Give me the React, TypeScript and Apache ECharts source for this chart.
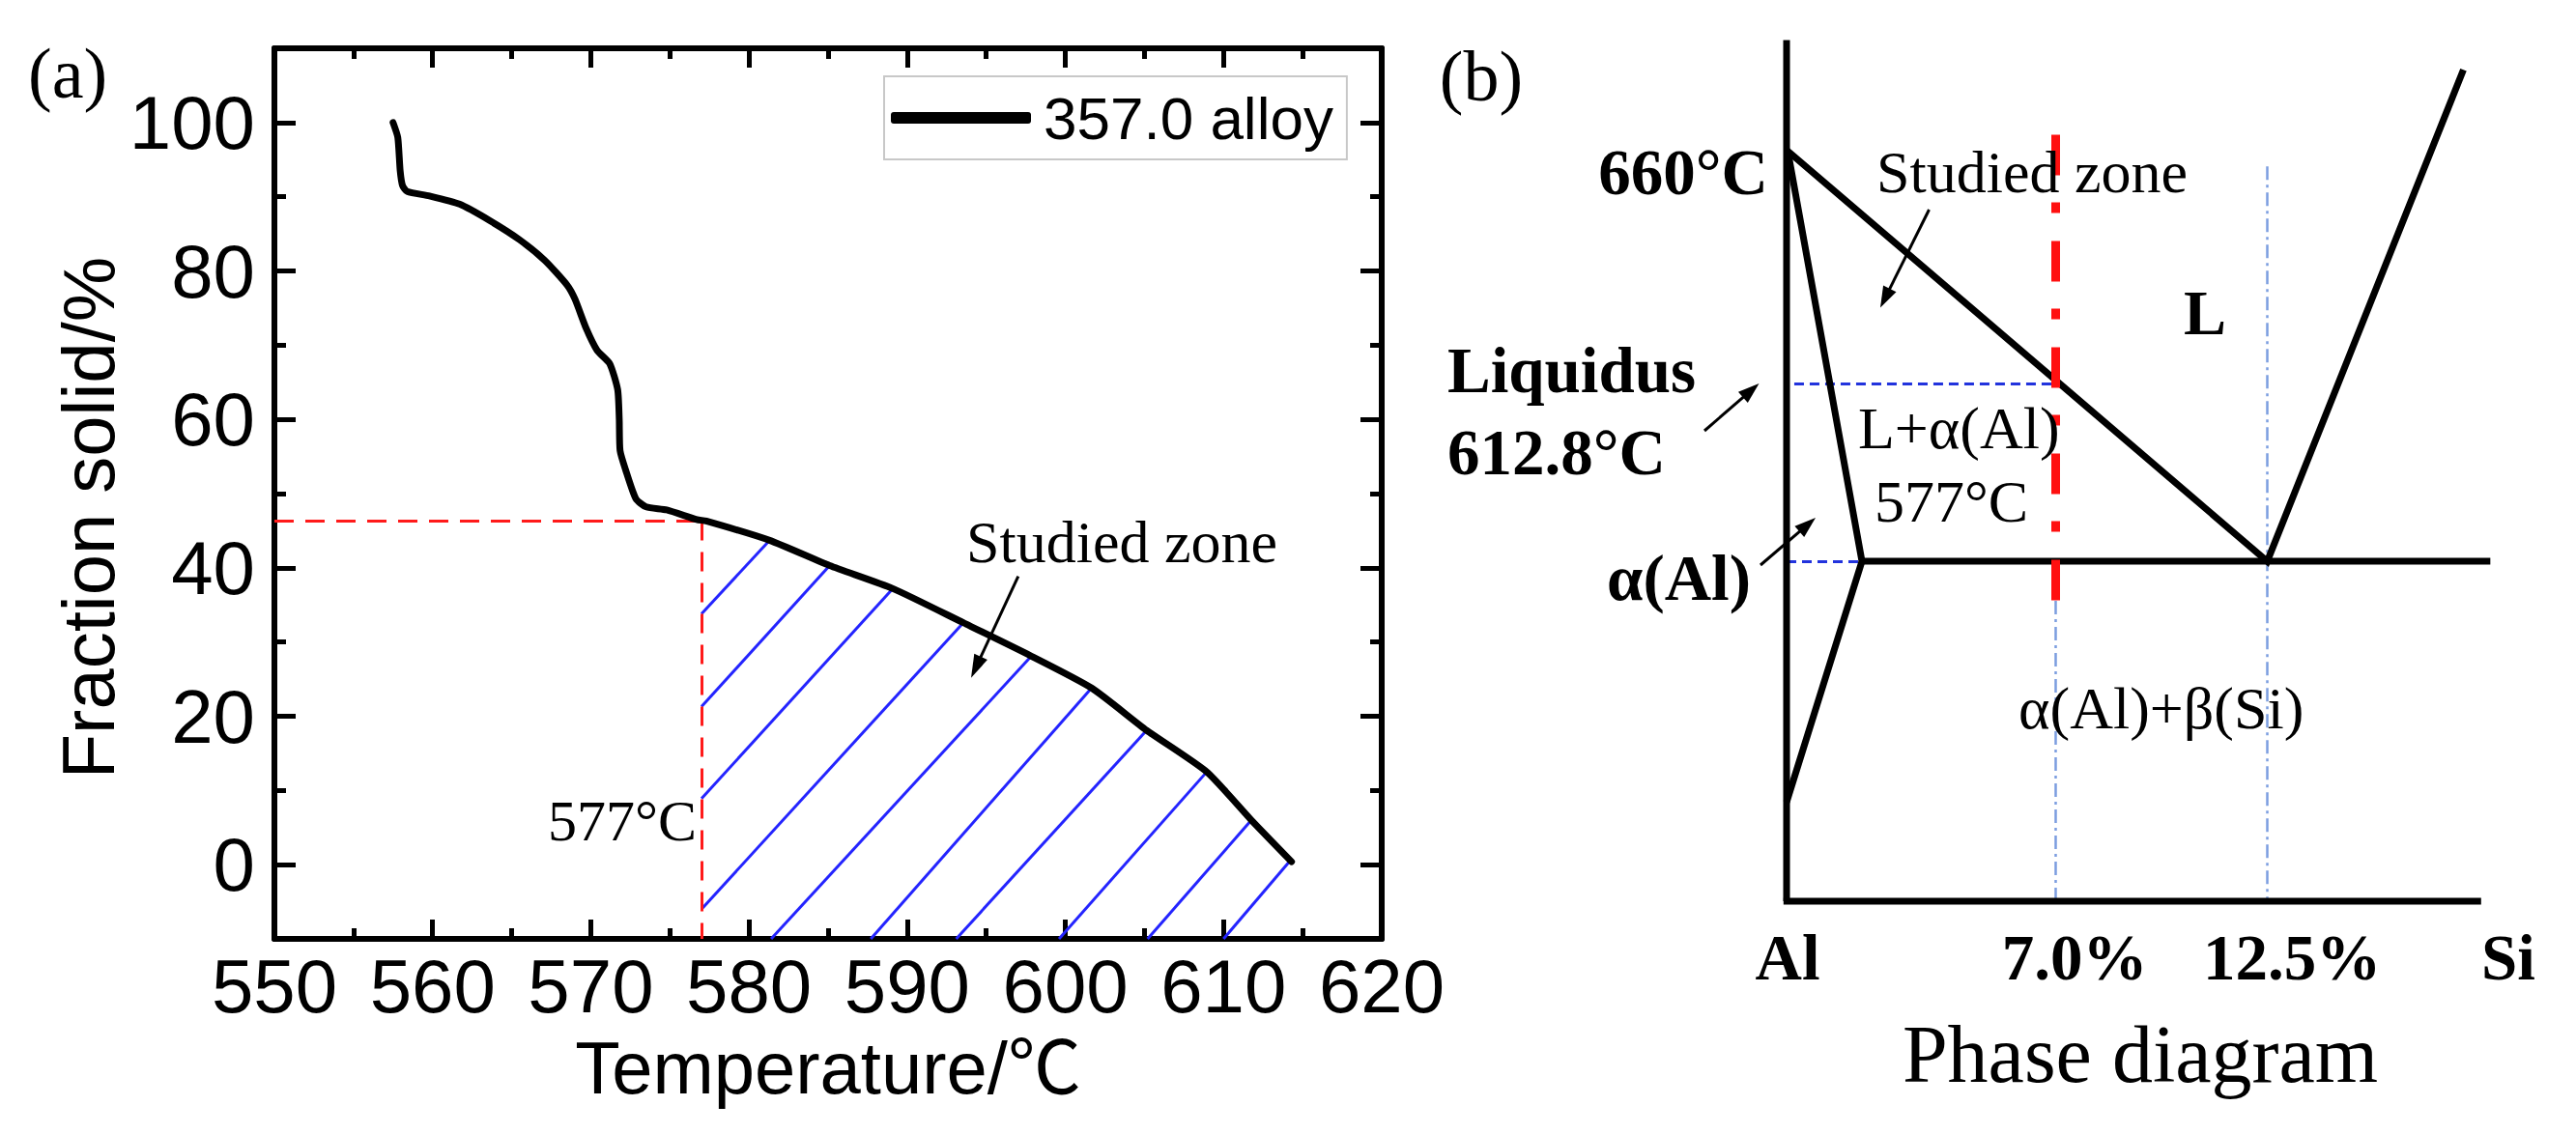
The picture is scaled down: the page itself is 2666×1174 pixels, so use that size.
import React, { useEffect, useRef } from "react";
import * as echarts from "echarts";

// ---------- Panel (a): fraction solid vs temperature ----------
const curveTemp = [
  557.5, 557.8, 557.95, 558.1, 558.4, 559.8, 561.7, 563.6, 565.5, 567.1, 568.5, 569.0,
  569.7, 570.4, 571.2, 571.7, 571.8, 571.85, 572.2, 572.85, 573.5, 574.8, 576.7, 577.3,
  581.3, 585.1, 589.1, 593.55, 597.85, 601.66, 605.14, 608.94, 611.76, 614.3,
];
const curveFraction = [
  100, 98.0, 93.5, 91.5, 90.7, 90.1, 89.0, 86.8, 84.2, 81.4, 78.1, 76.2,
  72.3, 69.3, 67.5, 64.0, 60.0, 55.8, 53.2, 49.3, 48.2, 47.8, 46.5, 46.3,
  43.7, 40.3, 37.2, 32.6, 28.1, 23.8, 18.1, 12.5, 6.0, 0.4,
];
const xTickInterval = 10;
const yMajorTicks = [0, 20, 40, 60, 80, 100];
const yMinorTicks = [10, 30, 50, 70, 90];
const hatchStart = [
  [577, 33.8], [577, 21.3], [577, 8.9], [577, -6.0], [581.4, -10],
  [587.7, -10], [593.1, -10], [599.6, -10], [605.2, -10], [610.0, -10],
];
const hatchEnd = [
  [581.3, 43.7], [585.1, 40.3], [589.1, 37.2], [593.55, 32.6], [597.85, 28.1],
  [601.66, 23.8], [605.14, 18.1], [608.94, 12.5], [611.76, 6.0], [614.24, 0.6],
];
const eutecticTemp = 577;
const fractionAtEutectic = 46.3;

// ---------- Panel (b): schematic Al-Si phase diagram (wt% Si, °C) ----------
const alMeltT = 660;
const alloySi = 7.0;
const alloyLiquidusT = 612.8;
const eutecticSi = 12.5;
const solvusSi = 1.96;
const solvusBottomT = 528.4;
const siLiquidusTop = [17.6, 676.2];
const eutecticLineEndSi = 18.3;
const baseT = 508.4;
const axisTopT = 682.2;
const axisEndSi = 18.06;
const redLineTopT = 663.1;
const redLineBottomT = 569;
const eutecticGuideTopT = 656.7;

const SANS = '"Liberation Sans", Arial, sans-serif';
const SANS_C = '"Liberation Sans", "Noto Sans CJK SC", sans-serif';
const SERIF = '"Liberation Serif", "Times New Roman", serif';

function txt(text: string, x: number, y: number, size: number, opt: any = {}) {
  return {
    type: "text",
    x,
    y,
    z: 100,
    style: {
      text,
      fontSize: size,
      fontFamily: opt.family || SERIF,
      fontWeight: opt.bold ? "bold" : "normal",
      fill: "#000",
      align: opt.align || "left",
      verticalAlign: "middle",
    },
  };
}

function arrow(x1: number, y1: number, x2: number, y2: number, lw: number, hl: number, hw: number) {
  const dx = x2 - x1, dy = y2 - y1;
  const L = Math.hypot(dx, dy);
  const ux = dx / L, uy = dy / L;
  const bx = x2 - ux * hl, by = y2 - uy * hl;
  const px = -uy, py = ux;
  return [
    { type: "line", z: 100, shape: { x1, y1, x2: bx + ux * 2, y2: by + uy * 2 }, style: { stroke: "#000", lineWidth: lw } },
    {
      type: "polygon",
      z: 100,
      shape: { points: [[x2, y2], [bx + (px * hw) / 2, by + (py * hw) / 2], [bx - (px * hw) / 2, by - (py * hw) / 2]] },
      style: { fill: "#000" },
    },
  ];
}

export default function App() {
  const ref = useRef<HTMLDivElement>(null);
  useEffect(() => {
    document.body.style.margin = "0";
    const chart = echarts.init(ref.current!, null, { renderer: "svg" });

    const curve = curveTemp.map((t, i) => [t, curveFraction[i]]);
    const hatch = hatchStart.map((s, i) => ({ coords: [s, hatchEnd[i]] }));
    const redGuides = [
      { coords: [[550, fractionAtEutectic], [eutecticTemp, fractionAtEutectic]] },
      { coords: [[eutecticTemp, fractionAtEutectic], [eutecticTemp, -10]] },
    ];

    const phaseLines = [
      { coords: [[0, baseT], [0, axisTopT]] },
      { coords: [[-0.08, baseT], [axisEndSi, baseT]] },
      { coords: [[0, alMeltT], [eutecticSi, eutecticTemp], siLiquidusTop] },
      { coords: [[0.05, alMeltT - 1], [solvusSi, eutecticTemp], [0, solvusBottomT]] },
      { coords: [[solvusSi, eutecticTemp], [eutecticLineEndSi, eutecticTemp]] },
    ];
    const blueDashed = [
      { coords: [[0.2, alloyLiquidusT], [alloySi, alloyLiquidusT]] },
      { coords: [[0, eutecticTemp], [solvusSi, eutecticTemp]] },
    ];
    const blueDashDot = [
      { coords: [[alloySi, redLineBottomT], [alloySi, baseT]] },
      { coords: [[eutecticSi, eutecticGuideTopT], [eutecticSi, baseT]] },
    ];
    const redDashDot = [{ coords: [[alloySi, redLineTopT], [alloySi, redLineBottomT]] }];

    const axisBase = {
      type: "value",
      gridIndex: 0,
      splitLine: { show: false },
      minorSplitLine: { show: false },
      axisLine: { show: true, onZero: false, lineStyle: { color: "#000", width: 6 } },
    };

    const graphic: any[] = [
      txt("(a)", 29, 76, 74),
      txt("(b)", 1533, 79, 74, { align: "center" }),
      txt("577°C", 721, 850, 60, { align: "right" }),
      txt("Studied zone", 1000, 561, 62),
      ...arrow(1053.8, 596.7, 1005, 701.7, 3, 24, 15),
      // panel b
      txt("660°C", 1830, 178, 67, { bold: true, align: "right" }),
      txt("Liquidus", 1498, 383, 67, { bold: true }),
      txt("612.8°C", 1498, 468, 67, { bold: true }),
      txt("α(Al)", 1663, 598, 67, { bold: true }),
      txt("Studied zone", 1942, 178, 62),
      txt("L", 2260, 323, 66, { bold: true }),
      txt("L+α(Al)", 1923, 443, 62),
      txt("577°C", 1940, 519, 62),
      txt("α(Al)+β(Si)", 2089, 733, 62),
      txt("Al", 1850, 991, 67, { bold: true, align: "center" }),
      txt("7.0%", 2147, 991, 67, { bold: true, align: "center" }),
      txt("12.5%", 2372, 991, 67, { bold: true, align: "center" }),
      txt("Si", 2596, 991, 67, { bold: true, align: "center" }),
      txt("Phase diagram", 2215, 1091, 84, { align: "center" }),
      ...arrow(1996.5, 217, 1946, 318.6, 3, 22, 15),
      ...arrow(1764, 446, 1820.5, 397, 3, 22, 15),
      ...arrow(1822, 585, 1879, 536, 3, 22, 15),
    ];

    chart.setOption({
      animation: false,
      backgroundColor: "#fff",
      grid: [
        { left: 284, top: 50, width: 1146, height: 922 },
        { left: 1809.2, top: 32.2, width: 796, height: 918.2 },
      ],
      legend: {
        data: ["357.0 alloy"],
        left: 915,
        top: 79,
        orient: "horizontal",
        icon: "roundRect",
        itemWidth: 145,
        itemHeight: 12,
        padding: [12, 14, 12, 7],
        borderColor: "#c8c8c8",
        borderWidth: 2,
        backgroundColor: "#fff",
        textStyle: { fontSize: 62, fontFamily: SANS, color: "#000", padding: [0, 0, 0, 8], lineHeight: 60 },
      },
      xAxis: [
        {
          ...axisBase,
          position: "bottom",
          min: 550,
          max: 620,
          interval: xTickInterval,
          axisTick: { show: true, inside: true, length: 20, lineStyle: { color: "#000", width: 5 } },
          minorTick: { show: true, splitNumber: 2, length: 11, lineStyle: { color: "#000", width: 5 } },
          axisLabel: { show: true, fontSize: 78, fontFamily: SANS, color: "#000", margin: 10 },
          name: "Temperature/℃",
          nameLocation: "middle",
          nameGap: 95,
          nameTextStyle: { fontSize: 76, fontFamily: SANS_C, color: "#000" },
        },
        {
          ...axisBase,
          position: "top",
          min: 550,
          max: 620,
          interval: xTickInterval,
          axisTick: { show: true, inside: true, length: 20, lineStyle: { color: "#000", width: 5 } },
          minorTick: { show: true, splitNumber: 2, length: 11, lineStyle: { color: "#000", width: 5 } },
          axisLabel: { show: false },
        },
        { type: "value", gridIndex: 1, min: -1, max: 19, show: false },
      ],
      yAxis: [
        {
          ...axisBase,
          position: "left",
          min: -10,
          max: 110,
          axisTick: { show: true, inside: true, length: 22, customValues: yMajorTicks, lineStyle: { color: "#000", width: 5 } },
          axisLabel: { show: true, customValues: yMajorTicks, fontSize: 78, fontFamily: SANS, color: "#000", margin: 20 },
          name: "Fraction solid/%",
          nameLocation: "middle",
          nameGap: 139,
          nameTextStyle: { fontSize: 76, fontFamily: SANS, color: "#000", padding: [0, 50, 0, 0] },
        },
        {
          ...axisBase,
          position: "right",
          min: -10,
          max: 110,
          axisTick: { show: true, inside: true, length: 22, customValues: yMajorTicks, lineStyle: { color: "#000", width: 5 } },
          axisLabel: { show: false },
        },
        {
          ...axisBase,
          position: "left",
          min: -10,
          max: 110,
          axisLine: { show: false },
          axisTick: { show: true, inside: true, length: 12, customValues: yMinorTicks, lineStyle: { color: "#000", width: 5 } },
          axisLabel: { show: false },
        },
        {
          ...axisBase,
          position: "right",
          min: -10,
          max: 110,
          axisLine: { show: false },
          axisTick: { show: true, inside: true, length: 12, customValues: yMinorTicks, lineStyle: { color: "#000", width: 5 } },
          axisLabel: { show: false },
        },
        { type: "value", gridIndex: 1, min: 505, max: 684, show: false },
      ],
      series: [
        {
          name: "357.0 alloy",
          type: "line",
          xAxisIndex: 0,
          yAxisIndex: 0,
          data: curve,
          smooth: 0.2,
          showSymbol: false,
          symbol: "none",
          itemStyle: { color: "#000" },
          lineStyle: { color: "#000", width: 7, join: "round", cap: "round" },
          z: 5,
        },
        {
          type: "lines",
          coordinateSystem: "cartesian2d",
          xAxisIndex: 0,
          yAxisIndex: 0,
          data: hatch,
          lineStyle: { color: "#2424ff", width: 3, opacity: 1 },
          z: 3,
        },
        {
          type: "lines",
          coordinateSystem: "cartesian2d",
          xAxisIndex: 0,
          yAxisIndex: 0,
          data: redGuides,
          lineStyle: { color: "#ff1a1a", width: 3, type: [20, 12], opacity: 1 },
          z: 4,
        },
        {
          type: "lines",
          coordinateSystem: "cartesian2d",
          xAxisIndex: 2,
          yAxisIndex: 4,
          data: blueDashDot,
          lineStyle: { color: "#7c9ee0", width: 2.5, type: [14, 5, 3, 5], opacity: 1 },
          z: 2,
        },
        {
          type: "lines",
          coordinateSystem: "cartesian2d",
          xAxisIndex: 2,
          yAxisIndex: 4,
          data: blueDashed,
          lineStyle: { color: "#2233dd", width: 3, type: [10, 6], opacity: 1 },
          z: 3,
        },
        {
          type: "lines",
          coordinateSystem: "cartesian2d",
          xAxisIndex: 2,
          yAxisIndex: 4,
          polyline: true,
          data: phaseLines,
          lineStyle: { color: "#000", width: 7, opacity: 1 },
          z: 4,
        },
        {
          type: "lines",
          coordinateSystem: "cartesian2d",
          xAxisIndex: 2,
          yAxisIndex: 4,
          data: redDashDot,
          lineStyle: { color: "#ff1010", width: 9, type: [42, 28, 11, 29], opacity: 1 },
          z: 6,
        },
      ],
      graphic,
    });
    return () => chart.dispose();
  }, []);
  return <div ref={ref} style={{ width: 2666, height: 1174 }} />;
}
